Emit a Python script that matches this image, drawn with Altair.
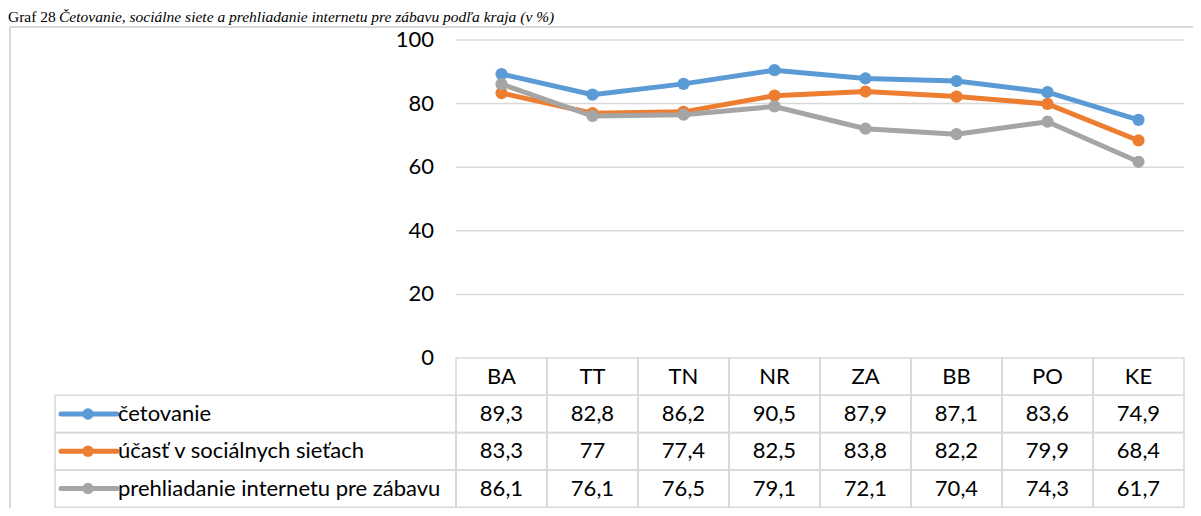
import altair as alt
import pandas as pd

# ---------------- data ----------------
categories = ["BA", "TT", "TN", "NR", "ZA", "BB", "PO", "KE"]
series_names = ["četovanie", "účasť v sociálnych sieťach", "prehliadanie internetu pre zábavu"]
chat = [89.3, 82.8, 86.2, 90.5, 87.9, 87.1, 83.6, 74.9]
social = [83.3, 77.0, 77.4, 82.5, 83.8, 82.2, 79.9, 68.4]
browse = [86.1, 76.1, 76.5, 79.1, 72.1, 70.4, 74.3, 61.7]
series_values = [chat, social, browse]
series_colors = ["#5B9BD5", "#ED7D31", "#A5A5A5"]
y_ticks = [0, 20, 40, 60, 80, 100]
title_lead = "Graf 28"
title_text = "Četovanie, sociálne siete a prehliadanie internetu pre zábavu podľa kraja (v %)"

# ---------------- layout ----------------
W, H = 1185, 500
XD = [-5.4231, 7.5989]      # column units (one column = one category)
YD = [-47.17, 110.06]       # value units
RD = [-4.0214, 9.383]       # table row units (row k spans -k .. -(k+1))
LABEL_LEFT = -4.9066
GRID = "#D9D9D9"
FONT = "Lato"
FS = 22

xs = alt.Scale(domain=XD, nice=False, zero=False)
ys = alt.Scale(domain=YD, nice=False, zero=False)
rs = alt.Scale(domain=RD, nice=False, zero=False)


def fmt(v):
    return f"{v:g}".replace(".", ",")


layers = []

# frame
layers.append(alt.Chart(pd.DataFrame({"a": [0]})).mark_rule(color=GRID, strokeWidth=2).encode(
    x=alt.value(2), x2=alt.value(W), y=alt.value(19)))
layers.append(alt.Chart(pd.DataFrame({"a": [0]})).mark_rule(color=GRID, strokeWidth=2).encode(
    x=alt.value(2), y=alt.value(19), y2=alt.value(H)))

# title
layers.append(alt.Chart(pd.DataFrame({"t": [title_lead]})).mark_text(
    font="Liberation Serif", fontSize=15.5, align="left", baseline="alphabetic", color="black"
).encode(x=alt.value(0), y=alt.value(14), text="t:N"))
layers.append(alt.Chart(pd.DataFrame({"t": [title_text]})).mark_text(
    font="Liberation Serif", fontSize=15.5, fontStyle="italic", align="left", baseline="alphabetic", color="black"
).encode(x=alt.value(51), y=alt.value(14), text="t:N"))

# gridlines
grid_df = pd.DataFrame({"t": [t for t in y_ticks if t > 0]})
layers.append(alt.Chart(grid_df).mark_rule(color=GRID, strokeWidth=1.5).encode(
    x=alt.XDatum(-0.5, scale=xs, axis=None), x2=alt.X2Datum(7.5),
    y=alt.Y("t:Q", scale=ys, axis=None)))

# y labels
tick_df = pd.DataFrame({"t": y_ticks})
layers.append(alt.Chart(tick_df).mark_text(
    font=FONT, fontSize=FS, align="right", baseline="middle", color="black"
).encode(x=alt.XDatum(-0.7418, scale=xs, axis=None),
         y=alt.Y("t:Q", scale=ys, axis=None),
         text=alt.Text("t:Q", format="d")))

# table cells
cells = []
for i, c in enumerate(categories):
    cells.append({"i": i, "r": 0})
    for s in range(len(series_names)):
        cells.append({"i": i, "r": s + 1})
cell_df = pd.DataFrame(cells)
layers.append(alt.Chart(cell_df).transform_calculate(
    x0="datum.i - 0.5", x1="datum.i + 0.5", y0="-datum.r", y1="-datum.r - 1"
).mark_rect(fillOpacity=0, stroke=GRID, strokeWidth=1.6).encode(
    x=alt.X("x0:Q", scale=xs, axis=None), x2="x1:Q",
    y=alt.Y("y0:Q", scale=rs, axis=None), y2="y1:Q"))

leg_df = pd.DataFrame({"series": series_names, "r": [1, 2, 3]})
layers.append(alt.Chart(leg_df).transform_calculate(
    y0="-datum.r", y1="-datum.r - 1"
).mark_rect(fillOpacity=0, stroke=GRID, strokeWidth=1.6).encode(
    x=alt.XDatum(LABEL_LEFT, scale=xs, axis=None), x2=alt.X2Datum(-0.5),
    y=alt.Y("y0:Q", scale=rs, axis=None), y2="y1:Q"))

# header text
hdr_df = pd.DataFrame({"i": list(range(len(categories))), "cat": categories})
layers.append(alt.Chart(hdr_df).mark_text(
    font=FONT, fontSize=FS, align="center", baseline="middle", color="black"
).encode(x=alt.X("i:Q", scale=xs, axis=None),
         y=alt.YDatum(-0.5, scale=rs, axis=None),
         text="cat:N"))

# value text
vals = []
for s, (name, arr) in enumerate(zip(series_names, series_values)):
    for i, v in enumerate(arr):
        vals.append({"i": i, "r": s + 1, "label": fmt(v)})
val_df = pd.DataFrame(vals)
layers.append(alt.Chart(val_df).transform_calculate(
    yc="-datum.r - 0.5"
).mark_text(font=FONT, fontSize=FS, align="center", baseline="middle", color="black").encode(
    x=alt.X("i:Q", scale=xs, axis=None),
    y=alt.Y("yc:Q", scale=rs, axis=None),
    text="label:N"))

# legend label text + icons
color_scale = alt.Scale(domain=series_names, range=series_colors)
leg_c = alt.Chart(leg_df).transform_calculate(yc="-datum.r - 0.5")
layers.append(leg_c.mark_rule(strokeWidth=5, strokeCap="round").encode(
    x=alt.XDatum(-4.8407, scale=xs, axis=None), x2=alt.X2Datum(-4.2253),
    y=alt.Y("yc:Q", scale=rs, axis=None),
    color=alt.Color("series:N", scale=color_scale, legend=None)))
layers.append(leg_c.mark_circle(size=130, opacity=1).encode(
    x=alt.XDatum(-4.544, scale=xs, axis=None),
    y=alt.Y("yc:Q", scale=rs, axis=None),
    color=alt.Color("series:N", scale=color_scale, legend=None)))
layers.append(leg_c.mark_text(font=FONT, fontSize=FS, align="left", baseline="middle", color="black").encode(
    x=alt.XDatum(-4.2143, scale=xs, axis=None),
    y=alt.Y("yc:Q", scale=rs, axis=None),
    text="series:N"))

# series lines and markers
for name, arr, col in zip(series_names, series_values, series_colors):
    df = pd.DataFrame({"i": list(range(len(categories))), "cat": categories, "v": arr})
    base = alt.Chart(df)
    layers.append(base.mark_line(color=col, strokeWidth=5).encode(
        x=alt.X("i:Q", scale=xs, axis=None), y=alt.Y("v:Q", scale=ys, axis=None)))
    layers.append(base.mark_circle(color=col, size=150, opacity=1).encode(
        x=alt.X("i:Q", scale=xs, axis=None), y=alt.Y("v:Q", scale=ys, axis=None)))

chart = alt.layer(*layers).resolve_scale(y="independent", color="independent").properties(
    width=W, height=H,
    autosize=alt.AutoSizeParams(type="none"),
    padding=0, background="white"
).configure_view(stroke=None)

chart.save("out.html", embed_options={"renderer": "svg", "actions": False})
